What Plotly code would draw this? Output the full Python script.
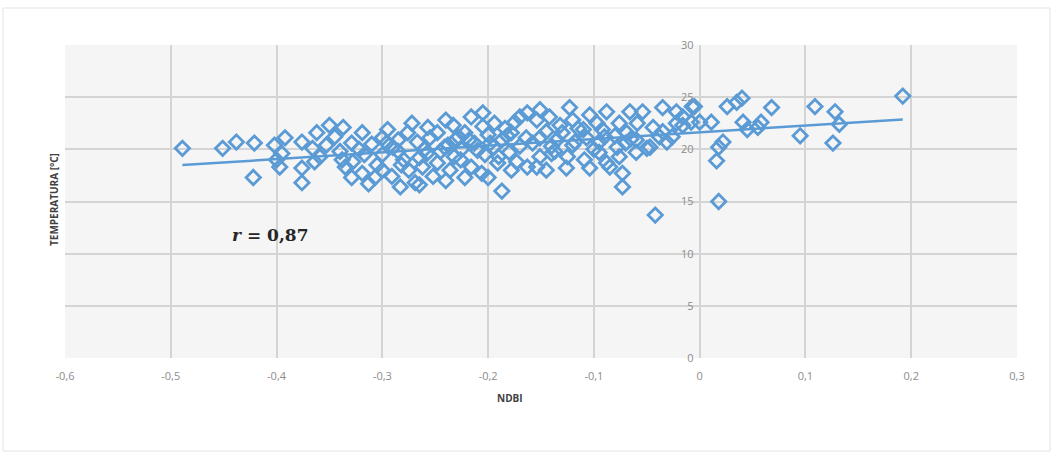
import numpy as np
import plotly.graph_objects as go

# NDBI vs. surface temperature samples
ndbi = [
    -0.489, -0.451, -0.438, -0.421, -0.422, -0.402, -0.392, -0.400, -0.397, -0.376,
    -0.376, -0.376, -0.362, -0.364, -0.350, -0.353, -0.338, -0.337, -0.329, -0.329,
    -0.328, -0.366, -0.359, -0.395, -0.345,
    -0.233, -0.216, -0.205, -0.170, -0.194, -0.184,
    -0.319, -0.300, -0.285, -0.276, -0.267, -0.255, -0.248, -0.241, -0.231, -0.222,
    -0.213, -0.200, -0.187, -0.178, -0.164,
    -0.317, -0.300, -0.282, -0.265, -0.248, -0.232, -0.216, -0.203, -0.191, -0.173, -0.163,
    -0.319, -0.307, -0.291, -0.269, -0.252, -0.236, -0.222, -0.206, -0.187, -0.178,
    -0.295, -0.272, -0.257, -0.163,
    -0.310, -0.290, -0.260, -0.245, -0.225, -0.210, -0.195, -0.180, -0.170, -0.305,
    -0.275, -0.240, -0.200, -0.283, -0.265, -0.313, -0.285, -0.240, -0.228, -0.205, -0.175,
    -0.151, -0.123, -0.104, -0.088, -0.066, -0.054, -0.035, -0.022, -0.007,
    -0.154, -0.142, -0.132, -0.120, -0.110, -0.097, -0.092, -0.076, -0.069, -0.059,
    -0.044, -0.035, -0.022, -0.016, 0.000,
    -0.151, -0.135, -0.120, -0.107, -0.095, -0.078, -0.060, -0.047, -0.038,
    -0.151, -0.137, -0.125, -0.109, -0.095, -0.085, -0.076, -0.050,
    -0.145, -0.126, -0.104, -0.088, -0.073, -0.073, -0.154,
    -0.042, -0.026, -0.031, -0.016, -0.130, -0.115, -0.080, -0.065, -0.140, -0.100, -0.060,
    -0.340, -0.322, -0.296, -0.280, -0.258, -0.238, -0.218, -0.198, -0.182, -0.158,
    -0.145, -0.118, -0.090, -0.070, -0.335, -0.300, -0.262, -0.226, -0.190, -0.140,
    0.192, 0.109, 0.128, 0.132, 0.126, 0.095, 0.068, 0.058, 0.055, 0.040,
    0.035, 0.026, 0.041, 0.045, 0.011, 0.022, 0.018, 0.016, 0.018, -0.005, -0.008,
]
temperatura = [
    20.1, 20.1, 20.7, 20.6, 17.3, 20.4, 21.1, 19.0, 18.3, 20.7,
    18.2, 16.8, 21.6, 18.8, 22.3, 20.4, 19.0, 22.1, 20.6, 17.3,
    18.8, 20.1, 19.3, 19.6, 21.2,
    22.3, 23.1, 23.5, 23.1, 22.5, 22.0,
    21.6, 21.1, 20.9, 21.6, 20.7, 21.1, 21.6, 20.2, 20.9, 21.6,
    20.6, 21.4, 20.9, 21.6, 21.1,
    19.5, 19.5, 18.5, 19.2, 18.7, 19.3, 18.3, 19.5, 18.7, 18.8, 18.3,
    17.7, 17.3, 17.4, 16.8, 17.4, 18.0, 17.3, 17.7, 16.0, 18.0,
    21.9, 22.5, 22.1, 23.5,
    20.5, 20.2, 20.0, 19.8, 20.0, 19.9, 20.2, 19.7, 20.3, 18.5,
    18.0, 17.0, 17.3, 16.4, 16.6, 16.7, 19.8, 22.8, 21.2, 22.2, 22.6,
    23.8, 24.0, 23.3, 23.6, 23.6, 23.6, 24.0, 23.6, 24.1,
    22.8, 23.1, 22.3, 22.8, 21.9, 22.5, 21.9, 22.5, 21.6, 22.5,
    22.1, 21.7, 22.5, 23.1, 22.6,
    21.1, 20.9, 20.4, 21.1, 20.7, 20.2, 20.9, 20.2, 21.2,
    19.3, 19.8, 19.3, 19.0, 19.7, 18.3, 19.3, 20.1,
    18.0, 18.2, 18.2, 18.7, 17.7, 16.4, 18.3,
    13.7, 21.2, 20.7, 22.3, 21.6, 22.0, 21.3, 21.0, 20.3, 20.0, 19.7,
    19.8, 20.0, 20.6, 19.0, 19.6, 20.4, 20.9, 20.6, 21.3, 20.6,
    21.7, 20.7, 21.2, 20.6, 18.3, 18.0, 18.3, 19.0, 19.3, 19.6,
    25.1, 24.1, 23.6, 22.4, 20.6, 21.3, 24.0, 22.6, 22.1, 24.9,
    24.5, 24.1, 22.6, 21.9, 22.6, 20.7, 20.2, 18.9, 15.0, 24.1, 22.6,
]

x_ticks = [-0.6, -0.5, -0.4, -0.3, -0.2, -0.1, 0.0, 0.1, 0.2, 0.3]
x_tick_labels = ["-0,6", "-0,5", "-0,4", "-0,3", "-0,2", "-0,1", "0", "0,1", "0,2", "0,3"]
y_ticks = [0, 5, 10, 15, 20, 25, 30]
r_label = "0,87"

BLUE = "#5b9bd5"
GRID = "#d4d4d4"
TICK_FONT = dict(family="Open Sans, sans-serif", size=11, color="#8c8c8c")
TITLE_FONT = dict(family="Open Sans, sans-serif", size=10, color="#404040")

x_arr = np.array(ndbi)
y_arr = np.array(temperatura)
slope, intercept = np.polyfit(x_arr, y_arr, 1)
trend_x = np.array([x_arr.min(), x_arr.max()])
trend_y = slope * trend_x + intercept

fig = go.Figure()
fig.add_trace(go.Scatter(
    x=ndbi, y=temperatura, mode="markers",
    marker=dict(symbol="diamond-open", size=11, color=BLUE, line=dict(width=2.8, color=BLUE)),
    showlegend=False, hoverinfo="x+y",
))
fig.add_trace(go.Scatter(
    x=trend_x, y=trend_y, mode="lines",
    line=dict(color=BLUE, width=2.5), showlegend=False, hoverinfo="skip",
))

x_min, x_max = -0.6, 0.3
y_axis_pos = (0 - x_min) / (x_max - x_min)

fig.update_layout(
    width=1059, height=452,
    margin=dict(l=65, r=42, t=45, b=94),
    paper_bgcolor="white",
    plot_bgcolor="#f5f5f5",
    xaxis=dict(
        range=[x_min, x_max], tickvals=x_ticks, ticktext=x_tick_labels,
        showgrid=True, gridcolor=GRID, gridwidth=1.8, zeroline=False,
        showline=False, ticks="", tickfont=TICK_FONT, ticklabelstandoff=10,
    ),
    yaxis=dict(
        range=[0, 30], tickvals=y_ticks,
        showgrid=True, gridcolor=GRID, gridwidth=1.8, zeroline=False,
        showline=False, ticks="", tickfont=TICK_FONT,
        anchor="free", position=y_axis_pos, ticklabelstandoff=6,
    ),
    annotations=[
        dict(text="<b>TEMPERATURA [°C]</b>", xref="paper", yref="paper",
             x=(45 - 65) / 952, y=(358 - 200) / 313, textangle=-90, showarrow=False,
             font=TITLE_FONT),
        dict(text="<b>NDBI</b>", xref="paper", yref="paper",
             x=(510 - 65) / 952, y=(358 - 407) / 313, showarrow=False,
             font=TITLE_FONT),
        dict(text="<b><i>r</i> = " + r_label + "</b>", xref="x", yref="y",
             x=-0.406, y=11.8, showarrow=False,
             font=dict(family="DejaVu Serif, serif", size=17, color="#262626")),
    ],
    shapes=[
        dict(type="rect", xref="paper", yref="paper",
             x0=(3 - 65) / 952, x1=(1050 - 65) / 952,
             y0=(358 - 451) / 313, y1=(358 - 8) / 313,
             line=dict(color="#e3e3e3", width=1), fillcolor="rgba(0,0,0,0)", layer="below"),
    ],
)

fig.write_html("out.html")
